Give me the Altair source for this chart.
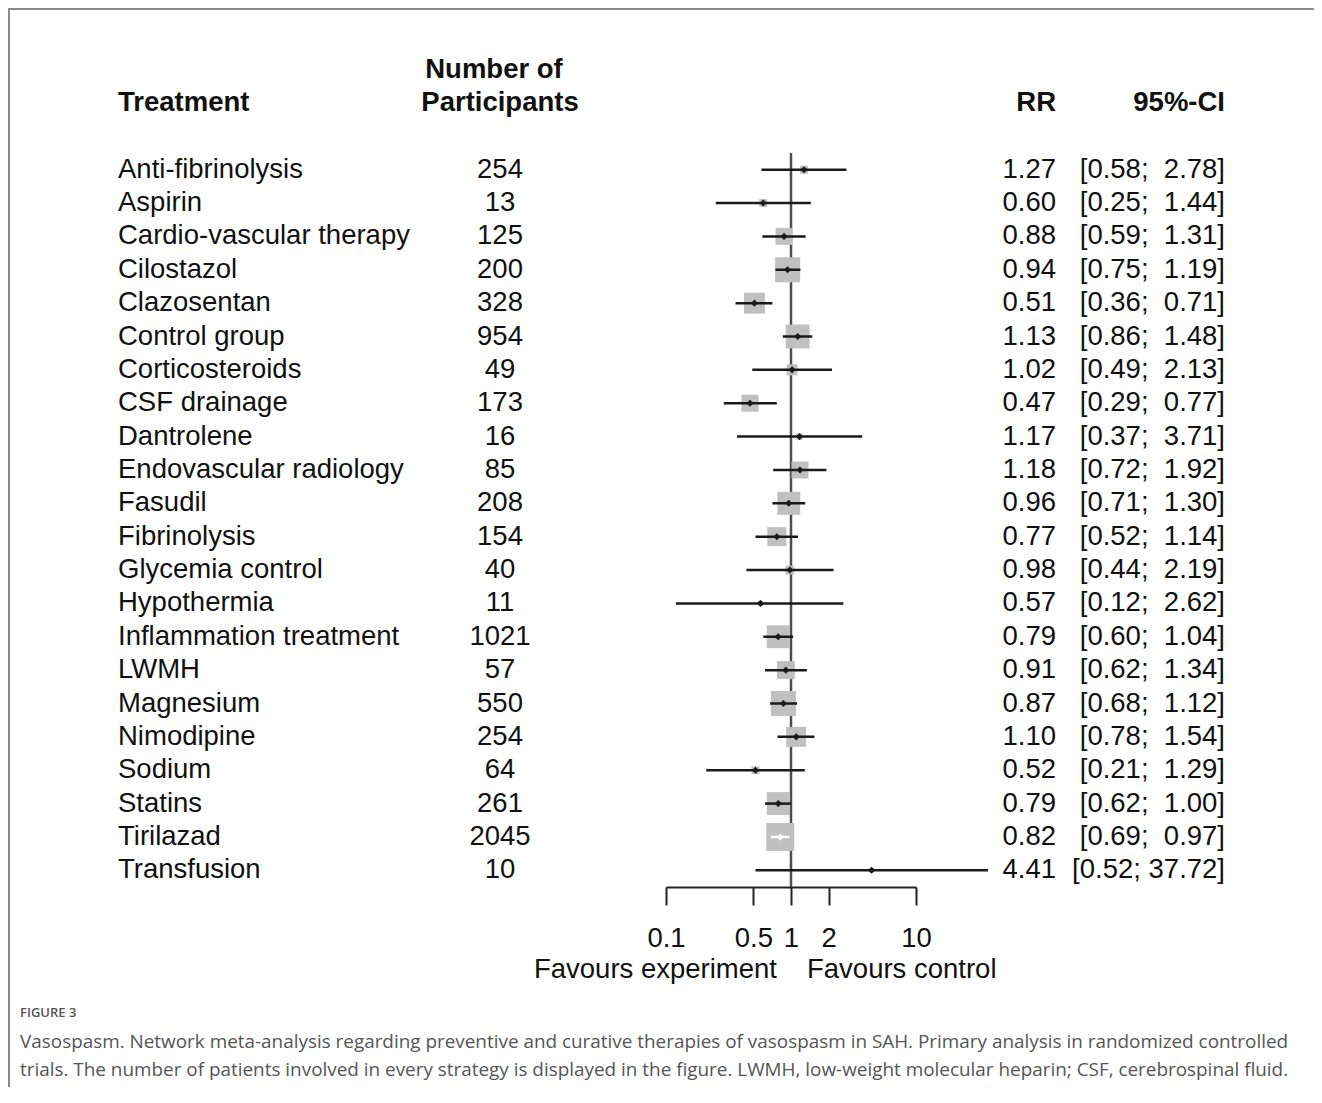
import math
import altair as alt
import pandas as pd

# ---------------- data ----------------
treatments = [
    "Anti-fibrinolysis", "Aspirin", "Cardio-vascular therapy", "Cilostazol",
    "Clazosentan", "Control group", "Corticosteroids", "CSF drainage",
    "Dantrolene", "Endovascular radiology", "Fasudil", "Fibrinolysis",
    "Glycemia control", "Hypothermia", "Inflammation treatment", "LWMH",
    "Magnesium", "Nimodipine", "Sodium", "Statins", "Tirilazad", "Transfusion",
]
participants = [254, 13, 125, 200, 328, 954, 49, 173, 16, 85, 208, 154,
                40, 11, 1021, 57, 550, 254, 64, 261, 2045, 10]
rr = [1.27, 0.60, 0.88, 0.94, 0.51, 1.13, 1.02, 0.47, 1.17, 1.18, 0.96, 0.77,
      0.98, 0.57, 0.79, 0.91, 0.87, 1.10, 0.52, 0.79, 0.82, 4.41]
lower = [0.58, 0.25, 0.59, 0.75, 0.36, 0.86, 0.49, 0.29, 0.37, 0.72, 0.71, 0.52,
         0.44, 0.12, 0.60, 0.62, 0.68, 0.78, 0.21, 0.62, 0.69, 0.52]
upper = [2.78, 1.44, 1.31, 1.19, 0.71, 1.48, 2.13, 0.77, 3.71, 1.92, 1.30, 1.14,
         2.19, 2.62, 1.04, 1.34, 1.12, 1.54, 1.29, 1.00, 0.97, 37.72]
# relative box weight (box area) (max = 100)
box_weight = [8, 8, 37, 80, 56, 73, 15, 37, 5, 37, 67, 46,
              10, 3, 67, 41, 80, 51, 8, 67, 100, 3]

tick_values = [0.1, 0.5, 1, 2, 10]

# ---------------- layout / style ----------------
FONT = "Liberation Sans"
FS = 27.5
W, H = 250, 734          # forest panel
PX_PER_DECADE = W / 2.0  # domain 0.1 .. 10
MAX_SIDE = 28
MAX_AREA = MAX_SIDE ** 2


def ci_text(lo, up):
    u = f"{up:.2f}"
    pad = "\u2008" * (5 - len(u))
    return f"[{lo:.2f};\u00a0{pad}{u}]"


rows = []
for t, n, r, lo, up, w in zip(treatments, participants, rr, lower, upper, box_weight):
    side = math.sqrt(w / 100.0 * MAX_AREA)
    half = side / 2.0 / PX_PER_DECADE
    c = math.log10(r)
    inside = (math.log10(lo) >= c - half) and (math.log10(up) <= c + half)
    rows.append(dict(treatment=t, n=str(n), rr=r, lower=lo, upper=up, weight=w,
                     rr_txt=f"{r:.2f}", ci_txt=ci_text(lo, up),
                     lc="white" if inside else "#1a1a1a"))
df = pd.DataFrame(rows)

xscale = alt.Scale(type="log", domain=[0.1, 10])
xaxis = alt.Axis(values=tick_values, format="~g", title=None, grid=False,
                 labelFlush=False, labelOverlap=False)
yenc = alt.Y("treatment:N", sort=treatments,
             scale=alt.Scale(paddingInner=0, paddingOuter=0), axis=None)

base = alt.Chart(df)

ref_line = alt.Chart(pd.DataFrame({"v": [1]})).mark_rule(
    color="#4d4d4d", strokeWidth=2.5
).encode(x=alt.X("v:Q", scale=xscale, axis=xaxis))

squares = base.mark_square(color="#c0c0c0", opacity=1, shape="square").encode(
    x=alt.X("rr:Q", scale=xscale, axis=xaxis),
    y=yenc,
    size=alt.Size("weight:Q", scale=alt.Scale(domain=[0, 100], range=[0, MAX_AREA]),
                  legend=None),
)

ci_lines = base.mark_rule(strokeWidth=2.5).encode(
    x=alt.X("lower:Q", scale=xscale, axis=xaxis),
    x2="upper:Q",
    y=yenc,
    color=alt.Color("lc:N", scale=None),
)

points = base.mark_point(shape="diamond", filled=True, size=50, opacity=1).encode(
    x=alt.X("rr:Q", scale=xscale, axis=xaxis),
    y=yenc,
    color=alt.Color("lc:N", scale=None),
)

txt = dict(font=FONT, fontSize=FS, color="#111111", baseline="middle")
name_txt = base.mark_text(align="left", **txt).encode(
    x=alt.value(-548), y=yenc, text="treatment:N")
n_txt = base.mark_text(align="center", **txt).encode(
    x=alt.value(-166), y=yenc, text="n:N")
rr_txt = base.mark_text(align="right", **txt).encode(
    x=alt.value(390), y=yenc, text="rr_txt:N")
ci_txt = base.mark_text(align="right", **txt).encode(
    x=alt.value(559), y=yenc, text="ci_txt:N")

one = pd.DataFrame({"a": [0]})
hdr = dict(font=FONT, fontSize=FS, fontWeight="bold", color="#111111", baseline="middle")
h_treat = alt.Chart(one).mark_text(align="left", text="Treatment", **hdr).encode(
    x=alt.value(-548), y=alt.value(-50))
h_num1 = alt.Chart(one).mark_text(align="center", text="Number of", **hdr).encode(
    x=alt.value(-172), y=alt.value(-83))
h_num2 = alt.Chart(one).mark_text(align="center", text="Participants", **hdr).encode(
    x=alt.value(-166), y=alt.value(-50))
h_rr = alt.Chart(one).mark_text(align="right", text="RR", **hdr).encode(
    x=alt.value(390), y=alt.value(-50))
h_ci = alt.Chart(one).mark_text(align="right", text="95%-CI", **hdr).encode(
    x=alt.value(559), y=alt.value(-50))

fav = dict(font=FONT, fontSize=FS, color="#111111", baseline="middle")
fav_left = alt.Chart(pd.DataFrame({"v": [1]})).mark_text(
    align="right", dx=-14, text="Favours experiment", **fav
).encode(x=alt.X("v:Q", scale=xscale, axis=xaxis), y=alt.value(H + 83))
fav_right = alt.Chart(pd.DataFrame({"v": [1]})).mark_text(
    align="left", dx=16, text="Favours control", **fav
).encode(x=alt.X("v:Q", scale=xscale, axis=xaxis), y=alt.value(H + 83))

frame = alt.Chart(one).mark_rect(fill=None, stroke="#8a8a8a", strokeWidth=2).encode(
    x=alt.value(-657), x2=alt.value(3000), y=alt.value(-144), y2=alt.value(3000))

cap = dict(font="Open Sans", color="#555555", baseline="middle", align="left")
cap_fig = alt.Chart(one).mark_text(text="FIGURE 3", fontSize=13, fontWeight=600, **cap).encode(
    x=alt.value(-646), y=alt.value(860))
cap_l1 = alt.Chart(one).mark_text(
    text="Vasospasm. Network meta-analysis regarding preventive and curative therapies of vasospasm in SAH. Primary analysis in randomized controlled",
    fontSize=18.9, **cap).encode(x=alt.value(-646), y=alt.value(889))
cap_l2 = alt.Chart(one).mark_text(
    text="trials. The number of patients involved in every strategy is displayed in the figure. LWMH, low-weight molecular heparin; CSF, cerebrospinal fluid.",
    fontSize=18.9, **cap).encode(x=alt.value(-646), y=alt.value(917))

chart = alt.layer(
    frame, ref_line, squares, ci_lines, points,
    name_txt, n_txt, rr_txt, ci_txt,
    h_treat, h_num1, h_num2, h_rr, h_ci,
    fav_left, fav_right, cap_fig, cap_l1, cap_l2,
).properties(
    width=W, height=H,
    autosize=alt.AutoSizeParams(type="none"),
    padding={"left": 658, "top": 145, "right": 398, "bottom": 200},
).configure_view(stroke=None).configure_axis(
    domainColor="#222222", domainWidth=2, tickColor="#222222", tickWidth=2,
    tickSize=18, labelFont=FONT, labelFontSize=FS, labelColor="#111111",
    labelPadding=19,
)

chart.save("out.html", embed_options={"renderer": "svg", "actions": False})
